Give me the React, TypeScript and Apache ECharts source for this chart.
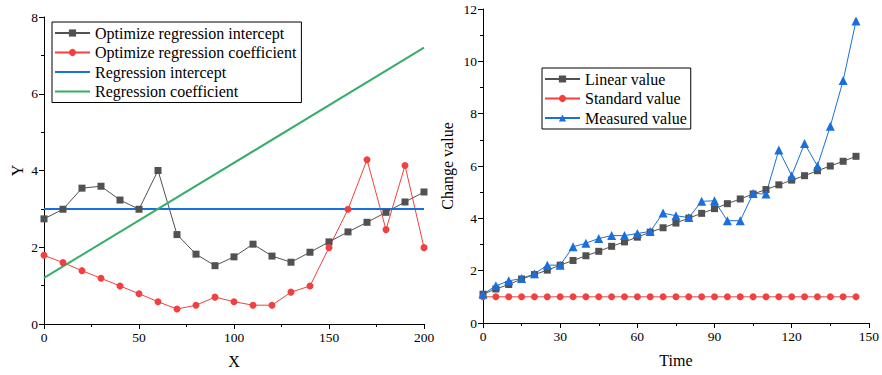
import React, { useEffect, useRef } from "react";
import * as echarts from "echarts";

const leftX = [0, 10, 20, 30, 40, 50, 60, 70, 80, 90, 100, 110, 120, 130, 140, 150, 160, 170, 180, 190, 200];
const optIntercept = [2.74, 2.99, 3.54, 3.59, 3.23, 2.99, 4.0, 2.33, 1.82, 1.52, 1.75, 2.08, 1.77, 1.61, 1.87, 2.14, 2.4, 2.65, 2.91, 3.18, 3.44];
const optCoefficient = [1.79, 1.6, 1.39, 1.19, 0.99, 0.79, 0.58, 0.39, 0.49, 0.7, 0.58, 0.49, 0.49, 0.83, 0.99, 1.99, 2.99, 4.28, 2.46, 4.13, 1.99];
const regLineX = [0, 200];
const regIntercept = [3, 3];
const regCoefficient = [1.2, 7.2];

const timeX = [0, 5, 10, 15, 20, 25, 30, 35, 40, 45, 50, 55, 60, 65, 70, 75, 80, 85, 90, 95, 100, 105, 110, 115, 120, 125, 130, 135, 140, 145];
const linearValue = [1.1, 1.3, 1.47, 1.68, 1.85, 2.02, 2.21, 2.39, 2.57, 2.74, 2.93, 3.1, 3.28, 3.47, 3.64, 3.82, 4.01, 4.19, 4.37, 4.56, 4.74, 4.93, 5.1, 5.28, 5.46, 5.63, 5.82, 6.0, 6.18, 6.37];
const standardValue = [1, 1, 1, 1, 1, 1, 1, 1, 1, 1, 1, 1, 1, 1, 1, 1, 1, 1, 1, 1, 1, 1, 1, 1, 1, 1, 1, 1, 1, 1];
const measuredValue = [1.1, 1.42, 1.61, 1.7, 1.88, 2.21, 2.21, 2.91, 3.05, 3.23, 3.34, 3.34, 3.42, 3.5, 4.2, 4.1, 4.03, 4.65, 4.67, 3.91, 3.91, 4.95, 4.93, 6.61, 5.63, 6.86, 6.0, 7.52, 9.27, 11.54];

const GRAY = "#515151";
const RED = "#F14040";
const BLUE = "#1A6FDF";
const GREEN = "#37AD6B";
const FONT = "Liberation Serif";
const LINE_ICON = "path://M0,0 L35,0 L35,2 L0,2 Z";

const zip = (xs: number[], ys: number[]) => xs.map((x, i) => [x, ys[i]]);

function axisCommon() {
  return {
    axisLine: { show: true, lineStyle: { color: "#000", width: 1 } },
    axisTick: { show: true, inside: false, length: 5, lineStyle: { color: "#000" } },
    minorTick: { show: true, splitNumber: 2, length: 3, lineStyle: { color: "#000" } },
    splitLine: { show: false },
    axisLabel: { color: "#000", fontFamily: FONT, fontSize: 13.5, margin: 6 },
    nameTextStyle: { color: "#000", fontFamily: FONT, fontSize: 16 },
    nameLocation: "middle" as const,
  };
}

export default function App() {
  const ref = useRef<HTMLDivElement>(null);
  useEffect(() => {
    if (!ref.current) return;
    const chart = echarts.init(ref.current, undefined, { renderer: "svg" });
    const legendText = { color: "#000", fontFamily: FONT, fontSize: 16 };
    const legendCommon = {
      orient: "vertical",
      itemWidth: 35,
      itemHeight: 9,
      itemGap: 3.5,
      borderColor: "#000",
      borderWidth: 1,
      borderRadius: 0,
      textStyle: legendText,
    };
    chart.setOption({
      animation: false,
      backgroundColor: "#fff",
      textStyle: { fontFamily: FONT },
      grid: [
        { left: 44, right: 458, top: 17, bottom: 51 },
        { left: 483, right: 10, top: 9, bottom: 52 },
      ],
      legend: [
        {
          ...legendCommon,
          data: [
            { name: "Optimize regression intercept" },
            { name: "Optimize regression coefficient" },
            { name: "Regression intercept", icon: LINE_ICON },
            { name: "Regression coefficient", icon: LINE_ICON },
          ],
          left: 52,
          top: 22,
          padding: [3, 5, 3, 2],
        },
        {
          ...legendCommon,
          data: ["Linear value", "Standard value", "Measured value"],
          left: 542,
          top: 68,
          padding: [3, 4, 3, 2],
        },
      ],
      xAxis: [
        { ...axisCommon(), gridIndex: 0, type: "value", min: 0, max: 200, interval: 50, name: "X", nameGap: 29 },
        { ...axisCommon(), gridIndex: 1, type: "value", min: 0, max: 150, interval: 30, name: "Time", nameGap: 29 },
      ],
      yAxis: [
        { ...axisCommon(), gridIndex: 0, type: "value", min: 0, max: 8, interval: 2, name: "Y", nameGap: 19, nameRotate: 90 },
        { ...axisCommon(), gridIndex: 1, type: "value", min: 0, max: 12, interval: 2, name: "Change value", nameGap: 28, nameRotate: 90 },
      ],
      series: [
        {
          name: "Optimize regression intercept",
          type: "line",
          xAxisIndex: 0,
          yAxisIndex: 0,
          data: zip(leftX, optIntercept),
          symbol: "rect",
          symbolSize: 7,
          itemStyle: { color: GRAY },
          lineStyle: { color: GRAY, width: 1 },
        },
        {
          name: "Optimize regression coefficient",
          type: "line",
          xAxisIndex: 0,
          yAxisIndex: 0,
          data: zip(leftX, optCoefficient),
          symbol: "circle",
          symbolSize: 7,
          itemStyle: { color: RED },
          lineStyle: { color: RED, width: 1 },
        },
        {
          name: "Regression intercept",
          type: "line",
          xAxisIndex: 0,
          yAxisIndex: 0,
          data: zip(regLineX, regIntercept),
          symbol: "none",
          itemStyle: { color: BLUE },
          lineStyle: { color: BLUE, width: 2 },
        },
        {
          name: "Regression coefficient",
          type: "line",
          xAxisIndex: 0,
          yAxisIndex: 0,
          data: zip(regLineX, regCoefficient),
          symbol: "none",
          itemStyle: { color: GREEN },
          lineStyle: { color: GREEN, width: 2 },
        },
        {
          name: "Linear value",
          type: "line",
          xAxisIndex: 1,
          yAxisIndex: 1,
          data: zip(timeX, linearValue),
          symbol: "rect",
          symbolSize: 7,
          itemStyle: { color: GRAY },
          lineStyle: { color: GRAY, width: 1 },
        },
        {
          name: "Standard value",
          type: "line",
          xAxisIndex: 1,
          yAxisIndex: 1,
          data: zip(timeX, standardValue),
          symbol: "circle",
          symbolSize: 7,
          itemStyle: { color: RED },
          lineStyle: { color: RED, width: 1 },
        },
        {
          name: "Measured value",
          type: "line",
          xAxisIndex: 1,
          yAxisIndex: 1,
          data: zip(timeX, measuredValue),
          symbol: "triangle",
          symbolSize: 9,
          itemStyle: { color: BLUE },
          lineStyle: { color: BLUE, width: 1 },
        },
      ],
    });
    return () => chart.dispose();
  }, []);
  return (
    <div
      ref={ref}
      style={{ position: "fixed", left: 0, top: 0, width: 882, height: 375, background: "#fff" }}
    />
  );
}
